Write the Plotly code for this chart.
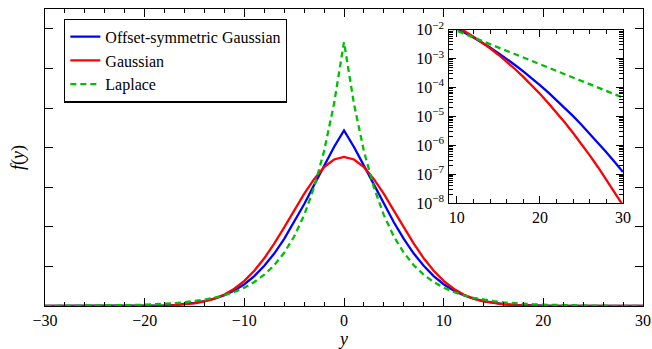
import plotly.graph_objects as go

# ---- data ----
y_grid = list(range(-30, 31))

offset_sym_gauss = [
    1.20e-7, 2.66e-7, 5.79e-7, 1.23e-6, 2.55e-6, 5.15e-6, 1.02e-5, 1.96e-5, 3.69e-5, 6.77e-5,
    1.21e-4, 2.13e-4, 3.63e-4, 6.05e-4, 9.84e-4, 0.00156, 0.00242, 0.00367, 0.00542, 0.00781,
    0.0110, 0.0151, 0.0203, 0.0265, 0.0339, 0.0423, 0.0514, 0.0611, 0.0709, 0.0803,
    0.0887,
    0.0803, 0.0709, 0.0611, 0.0514, 0.0423, 0.0339, 0.0265, 0.0203, 0.0151, 0.0110,
    0.00781, 0.00542, 0.00367, 0.00242, 0.00156, 9.84e-4, 6.05e-4, 3.63e-4, 2.13e-4, 1.21e-4,
    6.77e-5, 3.69e-5, 1.96e-5, 1.02e-5, 5.15e-6, 2.55e-6, 1.23e-6, 5.79e-7, 2.66e-7, 1.20e-7,
]

gaussian = [
    8.30e-9, 2.37e-8, 6.55e-8, 1.74e-7, 4.47e-7, 1.11e-6, 2.66e-6, 6.13e-6, 1.37e-5, 2.94e-5,
    6.10e-5, 1.22e-4, 2.35e-4, 4.39e-4, 7.90e-4, 0.00137, 0.00230, 0.00372, 0.00580, 0.00874,
    0.0127, 0.0178, 0.0241, 0.0315, 0.0397, 0.0482, 0.0566, 0.0641, 0.0701, 0.0740,
    0.0753,
    0.0740, 0.0701, 0.0641, 0.0566, 0.0482, 0.0397, 0.0315, 0.0241, 0.0178, 0.0127,
    0.00874, 0.00580, 0.00372, 0.00230, 0.00137, 7.90e-4, 4.39e-4, 2.35e-4, 1.22e-4, 6.10e-5,
    2.94e-5, 1.37e-5, 6.13e-6, 2.66e-6, 1.11e-6, 4.47e-7, 1.74e-7, 6.55e-8, 2.37e-8, 8.30e-9,
]

laplace = [
    4.47e-5, 5.84e-5, 7.62e-5, 9.95e-5, 1.30e-4, 1.70e-4, 2.21e-4, 2.89e-4, 3.77e-4, 4.93e-4,
    6.44e-4, 8.40e-4, 0.00110, 0.00143, 0.00187, 0.00244, 0.00319, 0.00416, 0.00543, 0.00710,
    0.00926, 0.0121, 0.0158, 0.0206, 0.0269, 0.0351, 0.0459, 0.0599, 0.0782, 0.1021,
    0.1333,
    0.1021, 0.0782, 0.0599, 0.0459, 0.0351, 0.0269, 0.0206, 0.0158, 0.0121, 0.00926,
    0.00710, 0.00543, 0.00416, 0.00319, 0.00244, 0.00187, 0.00143, 0.00110, 8.40e-4, 6.44e-4,
    4.93e-4, 3.77e-4, 2.89e-4, 2.21e-4, 1.70e-4, 1.30e-4, 9.95e-5, 7.62e-5, 5.84e-5, 4.47e-5,
]

series_names = ["Offset-symmetric Gaussian", "Gaussian", "Laplace"]
x_ticks_main = [-30, -20, -10, 0, 10, 20, 30]
y_ticks_main = [0, 0.02, 0.04, 0.06, 0.08, 0.10, 0.12, 0.14]
inset_x_ticks = [10, 20, 30]
inset_y_ticks = [1e-8, 1e-7, 1e-6, 1e-5, 1e-4, 1e-3, 1e-2]
inset_y_labels = ["10<sup>−8</sup>", "10<sup>−7</sup>", "10<sup>−6</sup>", "10<sup>−5</sup>",
                  "10<sup>−4</sup>", "10<sup>−3</sup>", "10<sup>−2</sup>"]

# ---- styling ----
FONT = "Liberation Serif, DejaVu Serif, serif"
BLUE, RED, GREEN = "#0000ff", "#ff0000", "#00bf00"
styles = [dict(color=BLUE, width=2.3), dict(color=RED, width=2.3),
          dict(color=GREEN, width=2.3, dash="6px,4px")]
datasets = [offset_sym_gauss, gaussian, laplace]

fig = go.Figure()
for name, vals, st in zip(series_names, datasets, styles):
    fig.add_trace(go.Scatter(x=y_grid, y=vals, mode="lines", name=name, line=st,
                             xaxis="x", yaxis="y"))

inset_idx = [i for i, v in enumerate(y_grid) if v >= 9]
for name, vals, st in zip(series_names, datasets, styles):
    fig.add_trace(go.Scatter(x=[y_grid[i] for i in inset_idx],
                             y=[vals[i] for i in inset_idx],
                             mode="lines", name=name, line=st, showlegend=False,
                             xaxis="x2", yaxis="y2"))

minor_log = []
for e in range(-8, -2):
    for m in range(2, 10):
        minor_log.append(m * 10 ** e)

axis_common = dict(showline=True, linecolor="black", linewidth=1.3, mirror="ticks",
                   ticks="inside", tickcolor="black", tickwidth=1, showgrid=False,
                   zeroline=False, automargin=False)

fig.update_layout(
    template="simple_white",
    width=652, height=349,
    margin=dict(l=45, r=9.3, t=8.5, b=43.3),
    paper_bgcolor="white", plot_bgcolor="white",
    font=dict(family=FONT, size=17, color="black"),
    showlegend=True,
    legend=dict(x=0.032, y=0.968, xanchor="left", yanchor="top",
                bgcolor="white", bordercolor="black", borderwidth=1.2,
                font=dict(family=FONT, size=16), tracegroupgap=0,
                itemwidth=30),
    xaxis=dict(domain=[0, 1], range=[-30, 30], tickvals=x_ticks_main, ticklen=8,
               tickfont=dict(family=FONT, size=16), ticklabeloverflow="allow",
               minor=dict(dtick=2, tick0=0, ticks="inside", ticklen=4, tickcolor="black"),
               title=dict(text="<i>y</i>", standoff=4, font=dict(family=FONT, size=18)),
               anchor="y", **axis_common),
    yaxis=dict(domain=[0, 1], range=[0, 0.15], tickvals=y_ticks_main, ticklen=8,
               showticklabels=False,
               title=dict(text="<i>f</i>(<i>y</i>)", standoff=14, font=dict(family=FONT, size=18)),
               anchor="x", **axis_common),
    xaxis2=dict(domain=[0.6748, 0.9665], range=[9, 30], tickvals=inset_x_ticks, ticklen=7,
                tickfont=dict(family=FONT, size=16),
                minor=dict(dtick=2, tick0=0, ticks="inside", ticklen=4, tickcolor="black"),
                anchor="y2", **axis_common),
    yaxis2=dict(domain=[0.3466, 0.930], type="log", range=[-8, -2],
                tickvals=inset_y_ticks, ticktext=inset_y_labels, ticklen=7,
                tickfont=dict(family=FONT, size=16),
                minor=dict(tickvals=minor_log, ticks="inside", ticklen=4, tickcolor="black"),
                anchor="x2", **axis_common),
)

fig.write_html(
    "out.html",
    config={"displayModeBar": False},
    post_script="document.body.style.margin='0';document.body.style.overflow='hidden';",
)
